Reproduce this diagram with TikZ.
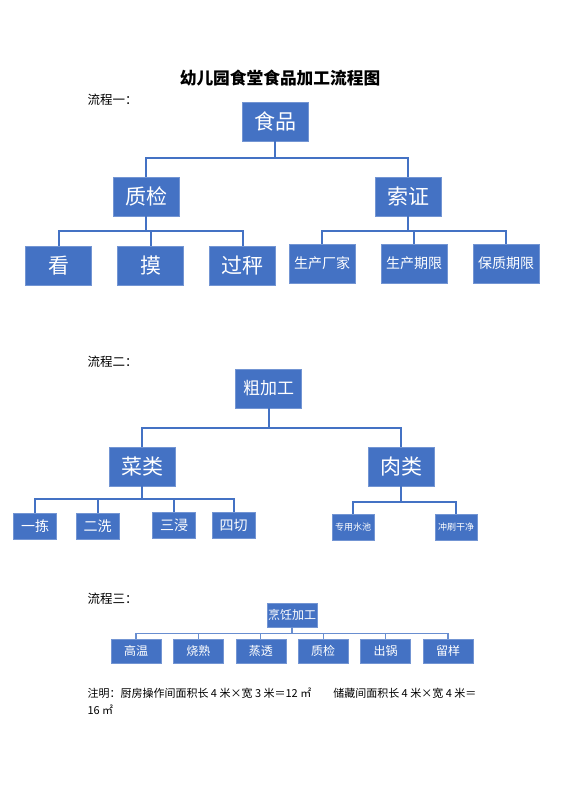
\documentclass[tikz,border=0pt]{standalone}
\usepackage{fontspec}
\setmainfont{Noto Sans CJK SC}
\usetikzlibrary{positioning}
\definecolor{boxblue}{HTML}{4472C4}
\definecolor{lineblue}{HTML}{4472C4}
\tikzset{
    box/.style={
           rectangle,
           draw=boxblue!75!white, thin,
           fill=boxblue,
           text=white,
           inner sep=0pt,
           align=center,
           },
}
\tikzset{
    big/.style={box, minimum width=66pt, minimum height=39pt, font=\fontsize{21}{21}\selectfont},
    mid/.style={box, minimum width=66pt, minimum height=39pt, font=\fontsize{14}{14}\selectfont},
    small/.style={box, minimum width=43pt, minimum height=26pt, font=\fontsize{14}{14}\selectfont},
    tiny/.style={box, minimum width=42pt, minimum height=26pt, font=\fontsize{9}{9}\selectfont},
    cook/.style={box, minimum width=50pt, minimum height=24pt, font=\fontsize{12}{12}\selectfont},
    link/.style={draw=lineblue, line width=2pt},
    thinlink/.style={draw=lineblue!80!white, line width=1.1pt},
    label/.style={anchor=west, font=\fontsize{12.5}{12.5}\selectfont},
}

\begin{document}
\begin{tikzpicture}[x=1pt,y=-1pt]
\useasboundingbox (0,0) rectangle (560,792);
\node[font=\bfseries\fontsize{16.7}{17}\selectfont](title) at (280,78){幼儿园食堂食品加工流程图};
% flow 1
\node[label](s1) at (84,100){流程一：};
\node[big](food) at (275,121.5){食品};
\node[big](qc) at (146,196.5){质检};
\node[big](cert) at (408,196.5){索证};
\node[big](look) at (58.5,265.5){看};
\node[big,node distance=92pt,right of = look](touch){摸};
\node[big,node distance=92pt,right of = touch](weigh){过秤};
\node[mid](maker) at (322,263.5){生产厂家};
\node[mid,node distance=92pt,right of = maker](pdate){生产期限};
\node[mid,node distance=92pt,right of = pdate](shelf){保质期限};
\foreach \c in {qc,cert} \draw[link] (food.south) -- ++(0,17) -| (\c.north);
\foreach \c in {look,touch,weigh} \draw[link] (qc.south) -- ++(0,15) -| (\c.north);
\foreach \c in {maker,pdate,shelf} \draw[link] (cert.south) -- ++(0,15) -| (\c.north);
% flow 2
\node[label](s2) at (84,362){流程二：};
\node[big,font=\fontsize{17}{17}\selectfont](rough) at (268.5,388.5){粗加工};
\node[big](veg) at (142,466.5){菜类};
\node[big](meat) at (401,466.5){肉类};
\node[small](pick) at (35,526){一拣};
\node[small](wash) at (97.5,526){二洗};
\node[small](soak) at (174,525){三浸};
\node[small](cut) at (233.5,525){四切};
\node[tiny](pool) at (353,527){专用水池};
\node[tiny](rinse) at (456,527){冲刷干净};
\foreach \c in {veg,meat} \draw[link] (rough.south) -- ++(0,20) -| (\c.north);
\foreach \c in {pick,wash,soak,cut} \draw[link] (veg.south) -- ++(0,13) -| (\c.north);
\foreach \c in {pool,rinse} \draw[link] (meat.south) -- ++(0,16) -| (\c.north);
% flow 3
\node[label](s3) at (84,599){流程三：};
\node[cook](cooking) at (292,615){烹饪加工};
\node[cook](heat) at (136,651){高温};
\node[cook,node distance=62.4pt,right of = heat](done){烧熟};
\node[cook,node distance=62.4pt,right of = done](steam){蒸透};
\node[cook,node distance=62.4pt,right of = steam](check){质检};
\node[cook,node distance=62.4pt,right of = check](serve){出锅};
\node[cook,node distance=62.4pt,right of = serve](sample){留样};
\foreach \c in {heat,done,steam,check,serve,sample} \draw[thinlink] (cooking.south) -- ++(0,6) -| (\c.north);
% note
\node[anchor=west,font=\fontsize{11}{11}\selectfont](note) at (84,693){注明：厨房操作间面积长 4 米×宽 3 米＝12 ㎡\quad\quad 储藏间面积长 4 米×宽 4 米＝};
\node[anchor=west,font=\fontsize{11}{11}\selectfont](note2) at (84,710){16 ㎡};
\end{tikzpicture}
\end{document}
